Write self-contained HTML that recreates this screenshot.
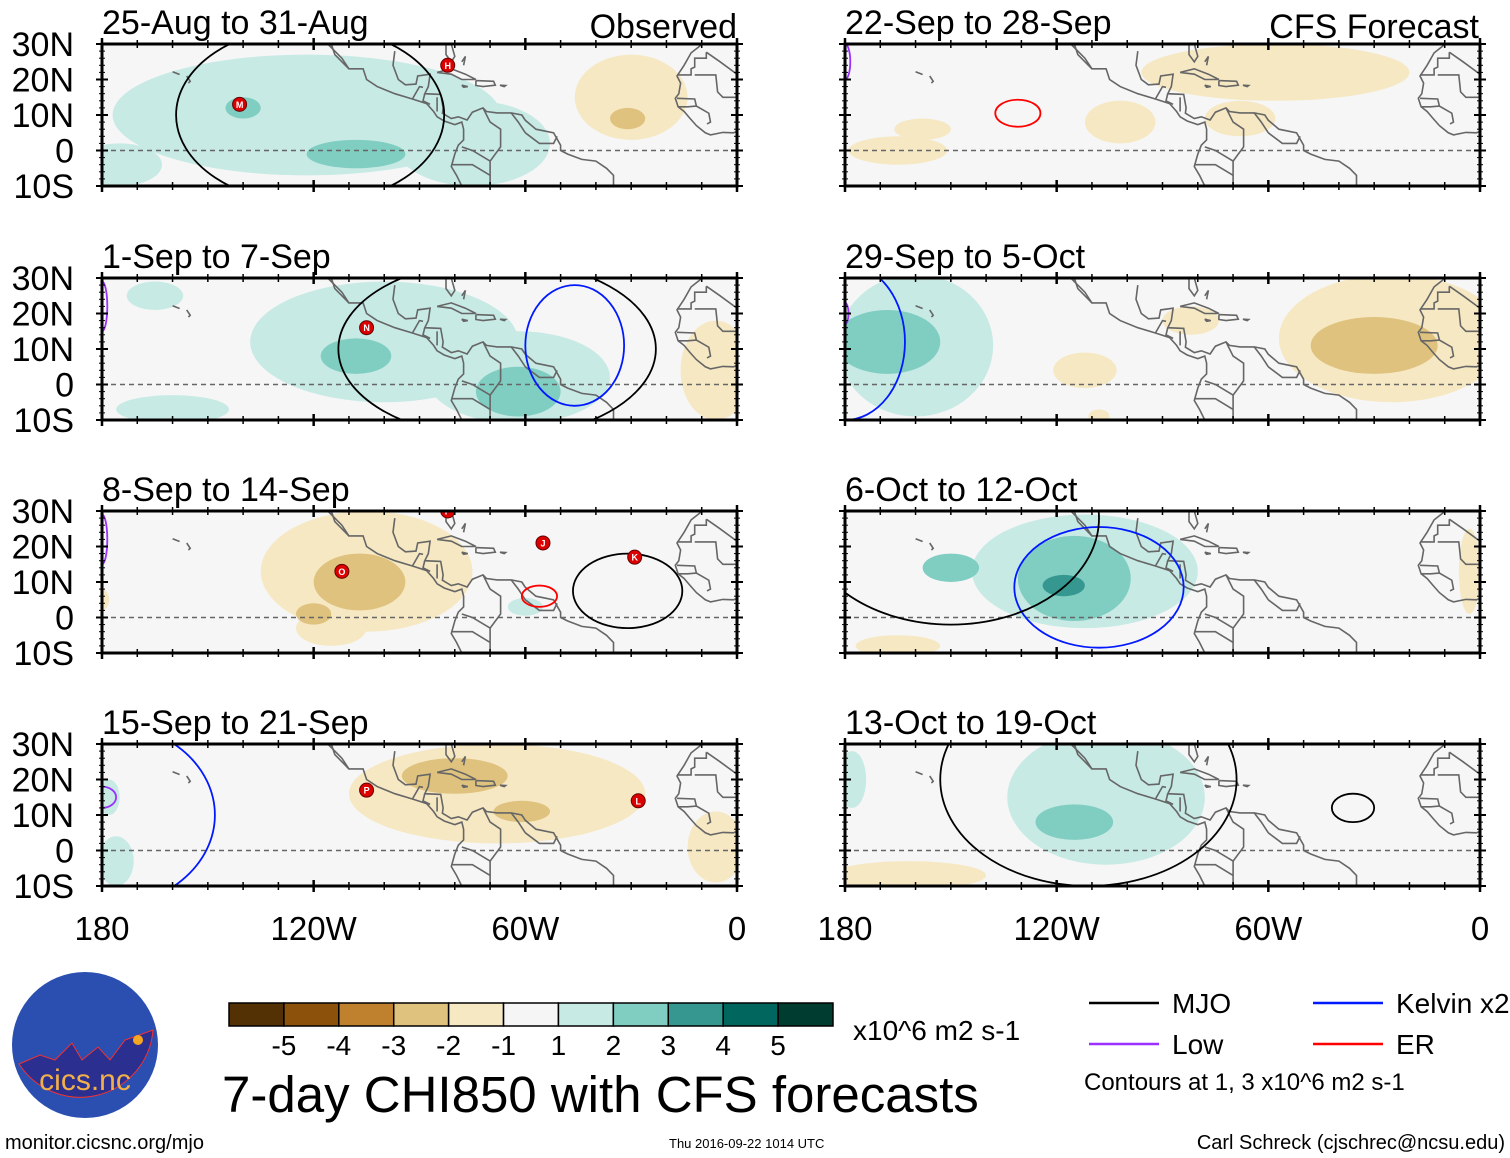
<!DOCTYPE html>
<html><head><meta charset="utf-8"><style>
html,body{margin:0;padding:0;background:#fff;width:1510px;height:1158px;overflow:hidden;font-family:"Liberation Sans",Arial,sans-serif}
svg text{font-family:"Liberation Sans",Arial,sans-serif}
</style></head><body>
<svg id="fig" width="1510" height="1158" viewBox="0 0 1510 1158" xmlns="http://www.w3.org/2000/svg"></svg>
<script>
// ---- data ----
const panelTitles = ["25-Aug to 31-Aug","1-Sep to 7-Sep","8-Sep to 14-Sep","15-Sep to 21-Sep","22-Sep to 28-Sep","29-Sep to 5-Oct","6-Oct to 12-Oct","13-Oct to 19-Oct"];
const latTicks = [30,20,10,0,-10];
const latLabels = ["30N","20N","10N","0","10S"];
const lonTicks = [-180,-120,-60,0];
const lonLabels = ["180","120W","60W","0"];
const levelColors = {"-5":"#543005","-4":"#8c510a","-3":"#bf812d","-2":"#dfc27d","-1":"#f6e8c3","1":"#c7eae5","2":"#80cdc1","3":"#35978f","4":"#01665e","5":"#003c30"};
const cbarColors = ["#543005","#8c510a","#bf812d","#dfc27d","#f6e8c3","#f5f5f5","#c7eae5","#80cdc1","#35978f","#01665e","#003c30"];
const cbarLabels = ["-5","-4","-3","-2","-1","1","2","3","4","5"];
// shading blobs: [lon, lat, rxDeg, ryDeg, level]
const shades = [
 [[-122,10,55,17,1],[-175,-4,12,6,1],[-75,2,22,12,1],[-140,12,5,3,2],[-108,-1,14,4,2],[-30,15,16,12,-1],[-31,9,5,3,-2]],
 [[-100,12,38,17,1],[-62,2,26,13,1],[-160,-7,16,4,1],[-165,25,8,4,1],[-108,8,10,5,2],[-62,-2,12,7,2],[-6,4,10,14,-1]],
 [[-105,13,30,17,-1],[-115,-3,10,5,-1],[-107,10,13,8,-2],[-120,1,5,3,-2],[-60,3,5,2.5,1],[-180,5,2,3,-1]],
 [[-68,16,42,14,-1],[-80,21,15,5,-2],[-61,11,8,3,-2],[-6,1,8,10,-1],[-176,-3,5,7,1],[-178,15,3,5,1]],
 [[-58,22,38,8,-1],[-165,0,14,4,-1],[-158,6,8,3,-1],[-102,8,10,6,-1],[-68,9,10,5,-1]],
 [[-160,11,22,20,1],[-168,12,15,9,2],[-25,13,32,18,-1],[-30,11,18,8,-2],[-82,18,8,4,-1],[-112,4,9,5,-1],[-108,-9,3,2,-1]],
 [[-112,13,32,16,1],[-115,11,16,12,2],[-118,9,6,3,3],[-150,14,8,4,2],[-3,13,3,12,-1],[-165,-8,12,3,-1]],
 [[-106,15,28,19,1],[-115,8,11,5,2],[-162,-7,22,4,-1],[-178,20,4,8,1]]
];
// contours: [lon, lat, rxDeg, ryDeg, type]
const contours = [
 [[-121,10,38,25,"mjo"]],
 [[-46,11,14,17,"kelvin"],[-68,10,45,25,"mjo"],[-180,22,1.5,7,"low"]],
 [[-56,6,5,3,"er"],[-31,7.5,15.5,10.5,"mjo"],[-180,22,1.5,7,"low"]],
 [[-180,10,32,26,"kelvin"],[-180,15,4,3,"low"]],
 [[-131,10.5,6.4,3.8,"er"],[-180,25,1.5,5,"low"]],
 [[-180,12,17,22,"kelvin"],[-180,20,1,3,"low"]],
 [[-108,8.5,24,17,"kelvin"],[-150,28,42,30,"mjo"]],
 [[-111,20,42,30,"mjo"],[-36,12,6,4,"mjo"]]
];
// storms: [lon, lat, letter]
const storms = [
 [[-141,13,"M"],[-82,24,"H"]],
 [[-105,16,"N"]],
 [[-112,13,"O"],[-82,30,"P"],[-55,21,"J"],[-29,17,"K"]],
 [[-105,17,"P"],[-28,14,"L"]],
 [],[],[],[]
];
const contourColors = {mjo:"#000",kelvin:"#0019ff",low:"#9b30ff",er:"#ff0000"};
// coastlines (lon,lat)
const coasts = [
 [[-118,30],[-116,30],[-112,26],[-110,23],[-106,23],[-105,20],[-102,18],[-97,16],[-92,14.5],[-88,13.2],[-86,11],[-85,9.5],[-83,8.3],[-80,7.3],[-78,8],[-77.5,6],[-77.5,3],[-79,1.5],[-80,-1],[-81,-4.5],[-79.5,-7],[-78,-10]],
 [[-115,30],[-114,27],[-111,24],[-110,23]],
 [[-97,28],[-97.5,24],[-96,20],[-94,18.5],[-91,18.7],[-90.5,21],[-87,21.5],[-87.5,18],[-88.5,16],[-84,15.8],[-83.3,12],[-83.5,10.5],[-81,9],[-79,9.5],[-76.5,8.6],[-75,10.8],[-72,12],[-71,11],[-68,10.6],[-64,10.6],[-61,10],[-60,8.5],[-57,6],[-52,5],[-50,1.5],[-50,0],[-48,-1],[-44,-2.5],[-40,-3],[-37,-5],[-35,-7],[-35,-10]],
 [[-82.5,30],[-82.5,27],[-81,25],[-80,26.5],[-81,30]],
 [[-85,22],[-81,23],[-77,21.5],[-74,20],[-78,20],[-81,21.5],[-85,22]],
 [[-74,19.7],[-69,19.5],[-68.5,18.4],[-72,18],[-74,18.3],[-74,19.7]],
 [[-78,18.4],[-76.3,18],[-77.5,17.8],[-78,18.4]],
 [[-67.2,18.4],[-65.6,18.3],[-66,18],[-67.2,18.4]],
 [[-78,25],[-77,26.5],[-77.5,24]],
 [[-156,21],[-155,19.5],[-155.5,19]],[[-160,22.2],[-158,21.4]],
 [[-9.8,30],[-13,27.5],[-15,24],[-17,21],[-16,19],[-16.5,16],[-17.5,14.7],[-16.7,12.3],[-15,11],[-13.3,9],[-11.5,7],[-9,5],[-7.5,4.4],[-4,5.1],[-1,5],[2,6.2]],
 [[-8.7,27.7],[-8.7,26],[-12,26],[-12,23.5],[-13,23],[-13,21.3],[-17,21.3]],
 [[-8.7,27.7],[-4.8,25],[0,21.5]],
 [[-12,21.3],[-6,21.3],[-5.5,16.5],[-4,15],[0,15]],
 [[-17,14.7],[-12,14.5],[-11.5,12.5],[-8,10.5],[-7.5,8],[-8.5,7.5]],
 [[-11.5,12.5],[-14,12.3],[-16.7,12.3]],
 [[-60,5],[-56,2],[-52,2],[-51,4]],
 [[-72,12],[-70,8],[-67,6],[-67,1],[-70,-3],[-70,-10]],
 [[-78,1],[-75,0],[-70,-3]],
 [[-81,-4],[-75,-4],[-70,-7]],
 [[-64,10.6],[-62,8],[-60,5]],
 [[-92,14.5],[-90,18],[-89,17.8]],
 [[-88.5,16],[-89,14],[-87,13]],
 [[-85,15],[-85,11]]
];
// ---- drawing ----
const NS="http://www.w3.org/2000/svg";
const svg=document.getElementById('fig');
function mk(tag,attrs,parent){const e=document.createElementNS(NS,tag);for(const k in attrs)e.setAttribute(k,attrs[k]);(parent||svg).appendChild(e);return e;}
const W=635,H=142;
const origins=[[102,44],[102,278],[102,511],[102,744],[845,44],[845,278],[845,511],[845,744]];
for(let p=0;p<8;p++){
 const [x0,y0]=origins[p];
 const xs=lon=>x0+(lon+180)/180*W;
 const ys=lat=>y0+(30-lat)/40*H;
 const g=mk('g',{});
 
 
 const cid='clip'+p;
 const cp=mk('clipPath',{id:cid},g);mk('rect',{x:x0,y:y0,width:W,height:H},cp);
 const bg=mk('rect',{x:x0,y:y0,width:W,height:H,fill:'#f6f6f6'},g);
 
 
 const inner=mk('g',{'clip-path':'url(#'+cid+')'},g);
 shades[p].forEach(s=>{
  const e=mk('ellipse',{cx:xs(s[0]),cy:ys(s[1]),rx:s[2]/180*W,ry:s[3]/40*H,fill:levelColors[String(s[4])]},inner);
  
  
 });
 coasts.forEach(c=>{
  const d=c.map((pt,i)=>(i?'L':'M')+xs(pt[0]).toFixed(1)+','+ys(pt[1]).toFixed(1)).join('');
  const e=mk('path',{d:d,fill:'none',stroke:'#666',"stroke-width":1.6},inner);
  
  
 });
 const eq=mk('line',{x1:x0,x2:x0+W,y1:ys(0),y2:ys(0),stroke:'#666','stroke-width':1.5,'stroke-dasharray':'5,4'},inner);
 
 
 contours[p].forEach(c=>{
  const e=mk('ellipse',{cx:xs(c[0]),cy:ys(c[1]),rx:c[2]/180*W,ry:c[3]/40*H,fill:'none',stroke:contourColors[c[4]],'stroke-width':1.8},inner);
  
  
 });
 storms[p].forEach(s=>{
  const sg=mk('g',{},inner);
  
  
  mk('circle',{cx:xs(s[0]),cy:ys(s[1]),r:7,fill:'#d00',stroke:'#600','stroke-width':1},sg);
  const t=mk('text',{x:xs(s[0]),y:ys(s[1])+3.5,'font-size':9,'font-weight':'bold',fill:'#fff','text-anchor':'middle'},sg);t.textContent=s[2];
 });
 const fr=mk('rect',{x:x0,y:y0,width:W,height:H,fill:'none',stroke:'#000','stroke-width':3},g);
 
 
 for(let lon=-180;lon<=0;lon+=10){
  const big=lon%60===0, L=big?6:4;
  mk('line',{x1:xs(lon),x2:xs(lon),y1:y0-L,y2:y0+L,stroke:'#000','stroke-width':big?2.5:1.5},g);
  mk('line',{x1:xs(lon),x2:xs(lon),y1:y0+H-L,y2:y0+H+L,stroke:'#000','stroke-width':big?2.5:1.5},g);
 }
 for(let lat=-10;lat<=30;lat+=2){
  const big=lat%10===0, L=big?6:3;
  mk('line',{x1:x0-L,x2:x0+L,y1:ys(lat),y2:ys(lat),stroke:'#000','stroke-width':big?2:1},g);
  mk('line',{x1:x0+W-L,x2:x0+W+L,y1:ys(lat),y2:ys(lat),stroke:'#000','stroke-width':big?2:1},g);
 }
 const tt=mk('text',{x:x0,y:y0-10,'font-size':34},g);tt.textContent=panelTitles[p];
 
 
 if(p<4){
  latTicks.forEach((lat,i)=>{const t=mk('text',{x:x0-28,y:ys(lat)+12,'font-size':34,'text-anchor':'end'},g);t.textContent=latLabels[i];
   
   });
 }
 if(p===3||p===7){
  lonTicks.forEach((lon,i)=>{const t=mk('text',{x:xs(lon),y:y0+H+54,'font-size':33,'text-anchor':'middle'},g);t.textContent=lonLabels[i];
   
   });
 }
}
function txt(x,y,s,str,name,anchor){const t=mk('text',{x:x,y:y,'font-size':s,'text-anchor':anchor||'start'});t.textContent=str;return t;}
txt(737,38,34,"Observed","observed-label","end");
txt(1479,38,34,"CFS Forecast","cfs-forecast-label","end");
// colorbar
const cbx=229,cbw=604/11;
cbarColors.forEach((c,i)=>{const r=mk('rect',{x:cbx+i*cbw,y:1003,width:cbw,height:23,fill:c,stroke:'#000','stroke-width':1.5});
 
 });
cbarLabels.forEach((l,i)=>txt(cbx+(i+1)*cbw,1055,28,l,'colorbar-label','middle'));
txt(853,1040,28,"x10^6 m2 s-1","colorbar-units");
txt(222,1112,51,"7-day CHI850 with CFS forecasts","figure-title");
// legend
[[1089,1003,"#000","MJO"],[1089,1044,"#9b30ff","Low"],[1313,1003,"#0019ff","Kelvin x2"],[1313,1044,"#ff0000","ER"]].forEach(l=>{
 const ln=mk('line',{x1:l[0],x2:l[0]+70,y1:l[1],y2:l[1],stroke:l[2],'stroke-width':2.5});
 
 
 txt(l[0]+83,l[1]+10,28,l[3],'legend-entry');
});
txt(1084,1090,24,"Contours at 1, 3 x10^6 m2 s-1","contour-note");
txt(5,1149,20,"monitor.cicsnc.org/mjo","source-url");
txt(669,1148,13,"Thu 2016-09-22 1014 UTC","timestamp");
txt(1505,1149,20,"Carl Schreck (cjschrec@ncsu.edu)","author-credit","end");
// logo
const lg=mk('g',{});
mk('circle',{cx:85,cy:1045,r:73,fill:'#2a4fb0'},lg);
mk('path',{d:'M19,1064 L40,1055 L55,1060 L72,1043 L82,1060 L98,1047 L110,1060 L125,1040 L153,1030 A73,73 0 0 1 19,1064Z',fill:'#2b2f90',stroke:'#e33','stroke-width':1},lg);
mk('circle',{cx:138,cy:1040,r:5,fill:'#f5a623'},lg);
const lt=mk('text',{x:85,y:1090,'font-size':30,fill:'#f2b04a','text-anchor':'middle'},lg);lt.textContent="cics.nc";
</script>
</body></html>
